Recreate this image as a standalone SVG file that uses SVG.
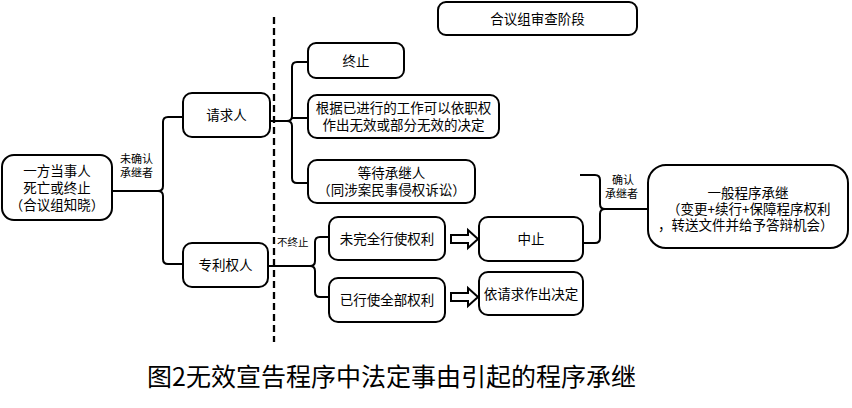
<svg xmlns="http://www.w3.org/2000/svg" width="852" height="408" viewBox="0 0 852 408">
<style>
.box{fill:#fff;stroke:#000;stroke-width:2}
.t{font-family:"Noto Sans CJK SC","Noto Sans",sans-serif;font-size:13.5px;fill:#000;text-anchor:middle}
.ts{font-family:"Noto Sans CJK SC","Noto Sans",sans-serif;font-size:13.5px;fill:#000;text-anchor:start}
.s{font-family:"Noto Sans CJK SC","Noto Sans",sans-serif;font-size:11px;fill:#000}
.ln{fill:none;stroke:#000;stroke-width:2}
.arr{fill:#fff;stroke:#000;stroke-width:2;stroke-linejoin:miter}
</style>
<rect width="852" height="408" fill="#fff"/>
<g id="connectors">
<line x1="274" y1="17" x2="274" y2="342" stroke="#000" stroke-width="2.3" stroke-dasharray="7,4"/>
<path class="ln" d="M112,191 H158"/>
<path class="ln" d="M183,117 H168 Q163,117 163,122 V186 Q163,191 158,191 Q163,191 163,196 V259 Q163,264 168,264 H183"/>
<path class="ln" d="M270,121 H287"/>
<path class="ln" d="M308,62 H297 Q292,62 292,67 V116 Q292,121 287,121 Q292,121 292,126 V178 Q292,183 297,183 H308"/>
<path class="ln" d="M292,118 H308"/>
<path class="ln" d="M268,266 H310"/>
<path class="ln" d="M329,237 H320 Q315,237 315,242 V261 Q315,266 310,266 Q315,266 315,271 V292 Q315,297 320,297 H329"/>
<path class="ln" d="M580,175 H595 Q600,175 600,180 V204 Q600,209 605,209 Q600,209 600,214 V238 Q600,243 595,243 H583"/>
<path class="ln" d="M605,209 H648"/>
<polygon class="arr" points="451,235 468,235 468,230 478,239 468,248 468,243 451,243"/>
<polygon class="arr" points="451,293 468,293 468,288 478,297 468,306 468,301 451,301"/>
<text class="s" x="120" y="163">未确认</text>
<text class="s" x="120" y="177">承继者</text>
<text class="s" x="277" y="246" style="font-size:10.5px">不终止</text>
<text class="s" x="623" y="184" text-anchor="middle">确认</text>
<text class="s" x="605" y="198">承继者</text>
</g>
<g id="node-start">
<rect class="box" x="2" y="155" width="110" height="65" rx="12"/>
<text class="t" x="57" y="176">一方当事人</text>
<text class="t" x="57" y="193">死亡或终止</text>
<text class="t" x="57" y="210">（合议组知晓）</text>
</g>
<g id="node-qingqiuren">
<rect class="box" x="183" y="93" width="87" height="44" rx="9"/>
<text class="t" x="226.5" y="120">请求人</text>
</g>
<g id="node-zhuanliquanren">
<rect class="box" x="183" y="243" width="85" height="44" rx="9"/>
<text class="t" x="225.5" y="270">专利权人</text>
</g>
<g id="node-stage">
<rect class="box" x="438" y="2" width="199" height="33" rx="8"/>
<text class="t" x="537.5" y="23.5">合议组审查阶段</text>
</g>
<g id="node-zhongzhi-end">
<rect class="box" x="308" y="43" width="96" height="35" rx="8"/>
<text class="t" x="356" y="66">终止</text>
</g>
<g id="node-yizhiquan">
<rect class="box" x="308" y="95" width="191" height="43" rx="9"/>
<text class="t" x="403.5" y="113">根据已进行的工作可以依职权</text>
<text class="t" x="403.5" y="130">作出无效或部分无效的决定</text>
</g>
<g id="node-dengdai">
<rect class="box" x="308" y="160" width="167" height="43" rx="9"/>
<text class="t" x="391.5" y="178">等待承继人</text>
<text class="t" x="391.5" y="195">（同涉案民事侵权诉讼）</text>
</g>
<g id="node-weiwanquan">
<rect class="box" x="329" y="217" width="116" height="43" rx="9"/>
<text class="t" x="387" y="244">未完全行使权利</text>
</g>
<g id="node-yixingshi">
<rect class="box" x="329" y="278" width="116" height="44" rx="9"/>
<text class="t" x="387" y="305">已行使全部权利</text>
</g>
<g id="node-zhongzhi">
<rect class="box" x="479" y="217" width="104" height="44" rx="9"/>
<text class="t" x="531" y="244">中止</text>
</g>
<g id="node-yiqingqiu">
<rect class="box" x="479" y="272" width="104" height="43" rx="9"/>
<text class="t" x="531" y="299">依请求作出决定</text>
</g>
<g id="node-yiban">
<rect class="box" x="648" y="165" width="200" height="83" rx="18"/>
<text class="t" x="748" y="198">一般程序承继</text>
<text class="ts" x="667" y="214">（变更+续行+保障程序权利</text>
<text class="ts" x="658" y="230">，转送文件并给予答辩机会）</text>
</g>
<text x="147" y="386" style="font-family:'Noto Sans CJK SC','Noto Sans',sans-serif;font-size:25px;fill:#000">图2无效宣告程序中法定事由引起的程序承继</text>
</svg>
